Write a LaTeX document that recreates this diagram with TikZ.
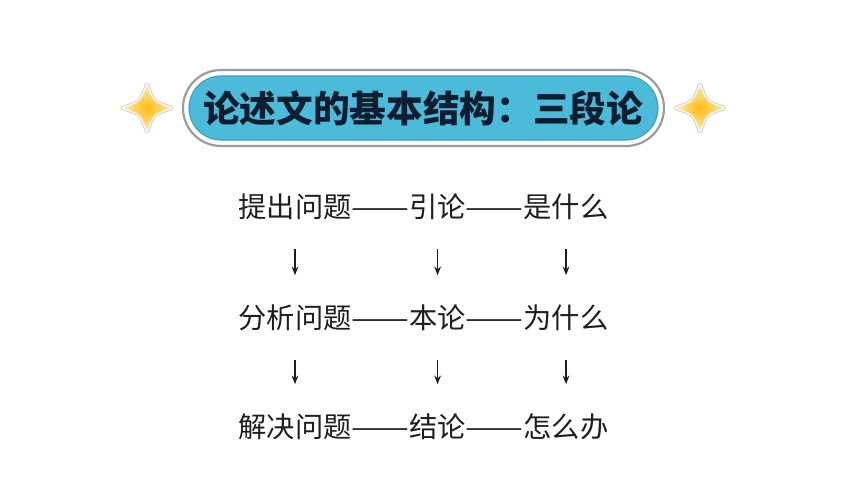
\documentclass[tikz,border=0pt]{standalone}
\usepackage{fontspec}
\usetikzlibrary{arrows.meta,positioning}
\newfontfamily\cjk{Noto Sans CJK SC}
\definecolor{pillcyan}{HTML}{4CBAD9}
\definecolor{pilledge}{HTML}{3A9DC2}
\definecolor{pillgray}{HTML}{9A9A9A}
\definecolor{titleink}{HTML}{0E1E30}
\definecolor{bodyink}{HTML}{1E1E1E}
\definecolor{starin}{HTML}{FFBA10}
\definecolor{starout}{HTML}{FFEBB0}
\definecolor{staredge}{HTML}{D2D2D2}
\newcommand{\longdash}{\scalebox{1.22}[1]{——}}
\begin{document}
\begin{tikzpicture}[x=0.75pt,y=-0.75pt,
  word/.style={inner sep=0pt,outer sep=0pt,text=bodyink,font=\cjk\fontsize{21.2pt}{24pt}\selectfont,text height=0.82em,text depth=0.1em},
  arr/.style={draw=bodyink,line width=1.1pt,-{Stealth[length=6.5pt,width=5pt]},shorten <=22.5pt,shorten >=32pt},
  starshape/.style={line width=3.5pt,line join=round,draw=staredge}]
\useasboundingbox (0,0) rectangle (845,500);
\fill[white] (0,0) rectangle (845,500);
% title pill
\draw[pillgray,line width=1.6pt,fill=white,rounded corners=28.5pt] (183,70) rectangle (664,146);
\draw[pilledge,line width=0.8pt,fill=pillcyan,rounded corners=24pt] (189,76) rectangle (658,140);
\node[text=titleink,font=\cjk\bfseries\fontsize{27.5pt}{30pt}\selectfont,inner sep=0pt] (title) at (423,108) {论述文的基本结构：三段论};
% stars
\foreach \cx in {147,700}{
  \path[starshape] (\cx,85) .. controls (\cx+6,102) .. (\cx+24,108) .. controls (\cx+6,114) .. (\cx,131) .. controls (\cx-6,114) .. (\cx-24,108) .. controls (\cx-6,102) .. cycle;
  \path[draw=white,line width=1.8pt,line join=round] (\cx,85) .. controls (\cx+6,102) .. (\cx+24,108) .. controls (\cx+6,114) .. (\cx,131) .. controls (\cx-6,114) .. (\cx-24,108) .. controls (\cx-6,102) .. cycle;
  \path[inner color=starin,outer color=starout] (\cx,85) .. controls (\cx+6,102) .. (\cx+24,108) .. controls (\cx+6,114) .. (\cx,131) .. controls (\cx-6,114) .. (\cx-24,108) .. controls (\cx-6,102) .. cycle;
}
% row 1
\node[word] (a1) at (295,213) {提出问题};
\node[word,right=0pt of a1] (ad1) {\longdash};
\node[word,right=0pt of ad1] (a2) {引论};
\node[word,right=0pt of a2] (ad2) {\longdash};
\node[word,right=0pt of ad2] (a3) {是什么};
% row 2
\node[word] (b1) at (295,324) {分析问题};
\node[word,right=0pt of b1] (bd1) {\longdash};
\node[word,right=0pt of bd1] (b2) {本论};
\node[word,right=0pt of b2] (bd2) {\longdash};
\node[word,right=0pt of bd2] (b3) {为什么};
% row 3
\node[word] (c1) at (295,433) {解决问题};
\node[word,right=0pt of c1] (cd1) {\longdash};
\node[word,right=0pt of cd1] (c2) {结论};
\node[word,right=0pt of c2] (cd2) {\longdash};
\node[word,right=0pt of cd2] (c3) {怎么办};
% arrows
\foreach \u/\v in {a1/b1,a2/b2,a3/b3,b1/c1,b2/c2,b3/c3}{
  \draw[arr] (\u.south) -- (\v.north);
}
\end{tikzpicture}
\end{document}
